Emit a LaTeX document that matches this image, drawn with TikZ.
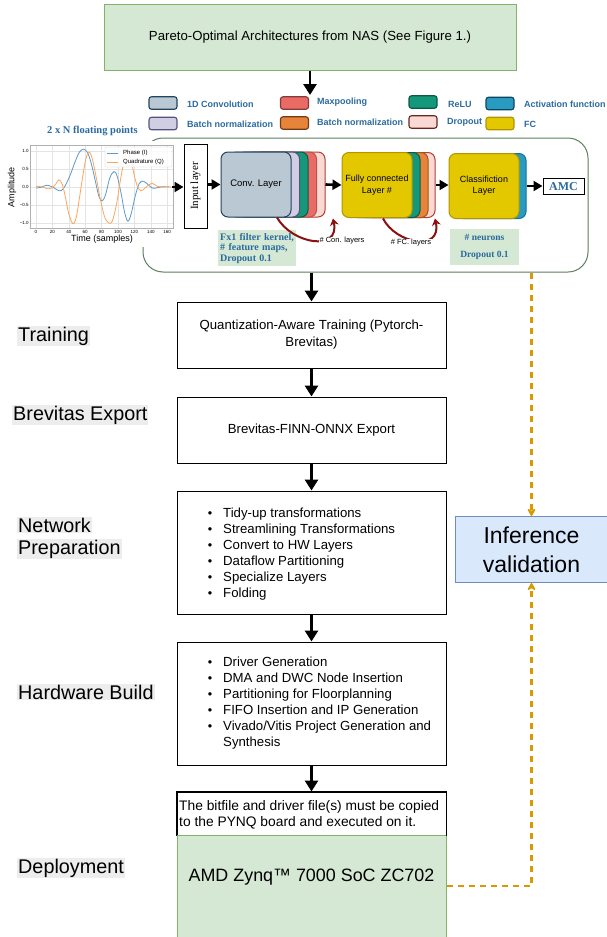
\documentclass[tikz,border=0pt]{standalone}
\usepackage{fontspec}
\setmainfont{Liberation Sans}
\newfontfamily\serifx{Liberation Serif}
\usetikzlibrary{arrows.meta}
\newcommand{\fs}[2]{\fontsize{#1}{#2}\selectfont}
\definecolor{ngreen}{HTML}{D5E8D4}
\definecolor{ngreenS}{HTML}{82B366}
\definecolor{convF}{HTML}{BAC8D3}
\definecolor{convS}{HTML}{23445D}
\definecolor{lavF}{HTML}{D0CEE2}
\definecolor{lavS}{HTML}{56517E}
\definecolor{reluF}{HTML}{15987A}
\definecolor{reluS}{HTML}{0B5A47}
\definecolor{maxF}{HTML}{EA6B66}
\definecolor{maxS}{HTML}{B85450}
\definecolor{bnF}{HTML}{E7843A}
\definecolor{bnS}{HTML}{A1541C}
\definecolor{dropF}{HTML}{FAD9D5}
\definecolor{dropS}{HTML}{AE4132}
\definecolor{fcF}{HTML}{E3C800}
\definecolor{fcS}{HTML}{B09500}
\definecolor{actF}{HTML}{2A9BC0}
\definecolor{actS}{HTML}{10739E}
\definecolor{legT}{HTML}{2B6A9E}
\definecolor{contS}{HTML}{5F7F5F}
\definecolor{infF}{HTML}{DAE8FC}
\definecolor{infS}{HTML}{6C8EBF}
\definecolor{dashO}{HTML}{D99A00}
\definecolor{redA}{HTML}{8B1010}
\definecolor{plotB}{HTML}{5A9BD0}
\definecolor{plotO}{HTML}{FFA55A}
\definecolor{gridc}{HTML}{E4E4E4}
\definecolor{framec}{HTML}{B0B0B0}
\definecolor{labbg}{HTML}{EDEDED}
\begin{document}
\begin{tikzpicture}[x=1pt,y=-1pt,
  flow/.style={draw=black, line width=1pt, fill=white, minimum width=269pt, inner sep=0pt, font=\fs{13.2}{17}, align=center},
  blk/.style={line width=2.8pt, -{Triangle[width=13pt,length=11pt]}},
  harr/.style={line width=2.6pt, -{Triangle[width=10pt,length=9pt]}},
  redarr/.style={draw=redA, line width=2pt, -{Stealth[width=9pt,length=7pt]}},
  oarr/.style={draw=dashO, line width=2.2pt, dash pattern=on 6pt off 5pt, -{Stealth[width=10pt,length=9pt,round]}},
  sw/.style={draw, rounded corners=2.5pt, line width=1.1pt, minimum width=28pt, minimum height=12.5pt, inner sep=0pt},
  legtxt/.style={anchor=west, text=legT, font=\bfseries\fs{9}{11}, inner sep=0pt},
  lay/.style={draw, line width=1pt, rounded corners=7pt, minimum width=70pt, minimum height=65pt, inner sep=0pt, align=center, font=\fs{9.5}{12}},
  lab/.style={fill=labbg, inner sep=1pt, font=\fs{19.8}{24}, anchor=west},
  bul/.style={anchor=base west, inner sep=0pt, font=\fs{13.2}{16}},
  tick/.style={inner sep=0.6pt, font=\fs{4.5}{5}}
]
\useasboundingbox (0,0) rectangle (607,937);

% top box
\node[flow, fill=ngreen, draw=ngreenS, minimum width=412pt, minimum height=66pt] (nas) at (310,37) {Pareto-Optimal Architectures from NAS (See Figure 1.)};
\coordinate (nasend) at (310,95);
\draw[blk] (nas.south) -- (nasend);

% legend
\node[sw, fill=convF, draw=convS] (sw1) at (163,103) {};
\node[legtxt] (lt1) at (187,104) {1D Convolution};
\node[sw, fill=maxF, draw=maxS!70!black] (sw2) at (294.5,103) {};
\node[legtxt] (lt2) at (317,102) {Maxpooling};
\node[sw, fill=reluF, draw=reluS] (sw3) at (423,102) {};
\node[legtxt] (lt3) at (448,104) {ReLU};
\node[sw, fill=actF, draw=actS!60!black] (sw4) at (500,103.5) {};
\node[legtxt] (lt4) at (524,104) {Activation function};
\node[sw, fill=lavF, draw=lavS] (sw5) at (163,123.5) {};
\node[legtxt] (lt5) at (187,124) {Batch normalization};
\node[sw, fill=bnF, draw=bnS!70!black] (sw6) at (294.5,123) {};
\node[legtxt] (lt6) at (317,122) {Batch normalization};
\node[sw, fill=dropF, draw=dropS!60!black] (sw7) at (423,122) {};
\node[legtxt] (lt7) at (447,122) {Dropout};
\node[sw, fill=fcF, draw=fcS] (sw8) at (500,123.5) {};
\node[legtxt] (lt8) at (524,124) {FC};

\node[anchor=west, inner sep=0pt, text=legT, font=\serifx\bfseries\fs{10.5}{12}] (npts) at (47,131) {2 x N floating points};

% container
\node[draw=contS, line width=1pt, rounded corners=20pt, fill=white, minimum width=445pt, minimum height=134pt, inner sep=0pt] (cont) at (365.5,205) {};

% plot
\fill[white] (4,141) rectangle (176,247);
\begin{scope}[shift={(36,187)}, x=0.82pt, y=36pt]
  \foreach \s in {0,20,...,160} \draw[gridc, line width=0.4pt] (\s,-1.14) -- (\s,1.17);
  \foreach \a in {-1,-0.5,0,0.5,1} \draw[gridc, line width=0.4pt] (-7.3,\a) -- (167,\a);
  \draw[framec, line width=0.5pt] (-7.3,-1.14) rectangle (167,1.17);
  \foreach \s in {0,20,...,160} \node[tick, anchor=north] (tx\s) at (\s,-1.17) {\s};
  \foreach \a/\l [count=\k] in {1/1.0,0.5/0.5,0/0.0,-0.5/−0.5,-1/−1.0} \node[tick, anchor=east] (ty\k) at (-8,\a) {\l};
  \draw[plotB, line width=0.8pt] plot[smooth, tension=0.55] coordinates {(0,-0.03) (6,-0.01) (13,0.05) (20,0.0) (26,-0.08) (31,-0.1) (36,0.05) (42,0.35) (48,0.72) (53,0.97) (58,1.05) (63,0.95) (68,0.6) (73,0.1) (77,-0.28) (81,-0.38) (85,-0.2) (90,0.25) (95,0.43) (99,0.3) (104,-0.2) (108,-0.7) (112,-0.95) (116,-0.75) (121,-0.25) (126,0.1) (131,0.16) (136,0.08) (142,-0.03) (148,-0.02) (155,0.01) (162,0.0)};
  \draw[plotO, line width=0.8pt] plot[smooth, tension=0.55] coordinates {(0,0.02) (8,0.0) (14,-0.05) (20,-0.02) (24,0.08) (28,0.2) (32,0.08) (36,-0.3) (40,-0.75) (45,-1.02) (49,-0.85) (53,-0.3) (57,0.3) (61,0.8) (65,0.97) (69,0.75) (74,0.2) (79,-0.4) (84,-0.85) (89,-1.0) (93,-0.95) (98,-0.5) (103,0.2) (108,0.8) (112,0.98) (116,0.75) (120,0.3) (124,0.0) (128,-0.1) (132,-0.05) (137,0.05) (142,0.1) (147,0.03) (153,0.0) (160,0.01) (165,0)};
\end{scope}
\draw[fill=white, fill opacity=0.85, draw=framec!70, rounded corners=1pt, line width=0.3pt] (105,147) rectangle (172,167);
\draw[plotB, line width=0.8pt] (107,153) -- (118,153);
\draw[plotO, line width=0.8pt] (107,162) -- (118,162);
\node[anchor=west, inner sep=0pt, font=\fs{6}{7}] (lgI) at (123,153) {Phase (I)};
\node[anchor=west, inner sep=0pt, font=\fs{6}{7}] (lgQ) at (123,162) {Quadrature (Q)};
\node[rotate=90, inner sep=0pt, font=\fs{9}{10}] (ampl) at (12,187) {Amplitude};
\node[inner sep=0pt, font=\fs{9}{10}] (timel) at (102,239) {Time (samples)};
\coordinate (plotout) at (172,187);

% input layer
\node[draw, line width=1pt, fill=white, minimum width=23pt, minimum height=84pt, inner sep=0pt] (inp) at (195.5,186) {};
\node[rotate=90, inner sep=0pt, font=\serifx\fs{11}{13}] (inptxt) at (inp.center) {Input layer};

% conv stack
\node[lay, fill=dropF, draw=dropS] (c4) at (290,184.5) {};
\node[lay, fill=maxF, draw=maxS] (c3) at (281.5,184.5) {};
\node[lay, fill=reluF, draw=reluS] (c2) at (273,184.5) {};
\node[lay, fill=lavF, draw=lavS] (c1) at (264.5,184.5) {};
\node[lay, fill=convF, draw=convS] (conv) at (256,184.5) {Conv. Layer};

% fc stack
\node[lay, fill=dropF, draw=dropS] (f3) at (400,185) {};
\node[lay, fill=bnF, draw=bnS] (f2) at (393,185) {};
\node[lay, fill=reluF, draw=reluS] (f1) at (385,185) {};
\node[lay, fill=fcF, draw=fcS, font=\fs{9}{12}] (fc) at (377,185) {Fully connected\\Layer \#};

% classification
\node[lay, fill=actF, draw=actS] (cl1) at (491,186) {};
\node[lay, fill=fcF, draw=fcS, font=\fs{9}{11}] (cls) at (484,186) {Classifiction\\Layer};

\node[draw, line width=1pt, fill=white, minimum width=41pt, minimum height=16pt, inner sep=0pt, text=legT, font=\serifx\bfseries\fs{12}{14}] (amc) at (563.5,186.5) {AMC};

% horizontal arrows
\draw[harr] (plotout) -- (inp.west |- plotout);
\draw[harr] (inp.east |- conv.west) -- (conv.west);
\draw[harr] (c4.east) -- (fc.west);
\draw[harr] (f3.east) -- (f3.east -| cls.west);
\draw[harr] (cl1.east) -- (cl1.east -| amc.west);

% info boxes
\node[fill=ngreen, anchor=north west, text width=74pt, minimum height=36pt, inner sep=2pt, align=left, text=legT, font=\serifx\bfseries\fs{10}{10.6}] (fx) at (218,230) {Fx1 filter kernel,\\\# feature maps,\\Dropout 0.1};
\node[fill=ngreen, minimum width=69pt, minimum height=36pt, inner sep=0pt, align=center, text=legT, font=\serifx\bfseries\fs{9.5}{17}] (neu) at (484.5,247) {\# neurons\\Dropout 0.1};

% red loop arrows
\coordinate (r1s) at (277,217.5);
\coordinate (r1e) at (333,218.5);
\draw[redarr] (r1s) .. controls (292,244) and (340,252) .. (r1e);
\coordinate (r2s) at (383,218.5);
\coordinate (r2e) at (435,218.5);
\draw[redarr] (r2s) .. controls (396,244) and (442,252) .. (r2e);
\node[fill=white, inner sep=0.5pt, font=\fs{7.5}{9}] (lcon) at (342,241) {\# Con. layers};
\node[fill=white, inner sep=0.5pt, font=\fs{7.5}{9}] (lfc) at (411,243) {\# FC. layers};

% flow boxes
\node[flow, minimum height=66pt] (qat) at (311.5,335) {Quantization-Aware Training (Pytorch-\\Brevitas)};
\node[flow, minimum height=66pt] (brev) at (311.5,430) {Brevitas-FINN-ONNX Export};
\node[flow, minimum height=123pt] (np) at (311.5,552.5) {};
\node[flow, minimum height=123pt] (hb) at (311.5,703.5) {};
\node[flow, minimum height=43pt] (dep) at (311.5,813.5) {};
\node[flow, fill=ngreen, draw=ngreenS, minimum height=102pt] (green) at (311.5,886) {};
\draw[black, line width=1pt] (dep.south west) -- (dep.north west) -- (dep.north east) -- (dep.south east);
\node[font=\fs{17.9}{20}, inner sep=0pt] (zynq) at (311.5,877) {AMD Zynq™ 7000 SoC ZC702};
\node[bul, font=\fs{13.8}{16}] (dep1) at (179,810.5) {The bitfile and driver file(s) must be copied};
\node[bul, font=\fs{13.8}{16}] (dep2) at (179,826.5) {to the PYNQ board and executed on it.};

\foreach \t [count=\i] in {Tidy-up transformations, Streamlining Transformations, Convert to HW Layers, Dataflow Partitioning, Specialize Layers, Folding}{
  \node[bul] (np\i) at (223, 501.6+16*\i) {\t};
  \node[anchor=base, inner sep=0pt, font=\fs{12.5}{16}] (npb\i) at (210, 501.6+16*\i) {\textbullet};
}
\foreach \t [count=\i] in {Driver Generation, DMA and DWC Node Insertion, Partitioning for Floorplanning, FIFO Insertion and IP Generation, Vivado/Vitis Project Generation and}{
  \node[bul] (hb\i) at (223, 650.6+16*\i) {\t};
  \node[anchor=base, inner sep=0pt, font=\fs{12.5}{16}] (hbb\i) at (210, 650.6+16*\i) {\textbullet};
}
\node[bul] (hb6) at (223, 746.6) {Synthesis};

% vertical arrows
\draw[blk] (cont.south -| qat.north) -- (qat.north);
\draw[blk] (qat.south) -- (brev.north);
\draw[blk] (brev.south) -- (np.north);
\draw[blk] (np.south) -- (hb.north);
\draw[blk] (hb.south) -- (dep.north);

% inference
\node[draw=infS, fill=infF, line width=1pt, minimum width=153pt, minimum height=66pt, inner sep=0pt, align=center, font=\fs{23}{29}] (inf) at (531.5,549.5) {Inference\\validation};
\draw[oarr] (cont.south -| inf.north) -- (inf.north);
\draw[oarr] (green.east) -| (inf.south);

% left labels
\node[lab] (l1) at (17,336) {Training};
\node[lab] (l2) at (12,415) {Brevitas Export};
\node[lab] (l3a) at (17,525) {Network};
\node[lab] (l3b) at (17,549) {Preparation};
\node[lab] (l4) at (17,692) {Hardware Build};
\node[lab] (l5) at (17,868) {Deployment};
\end{tikzpicture}
\end{document}
